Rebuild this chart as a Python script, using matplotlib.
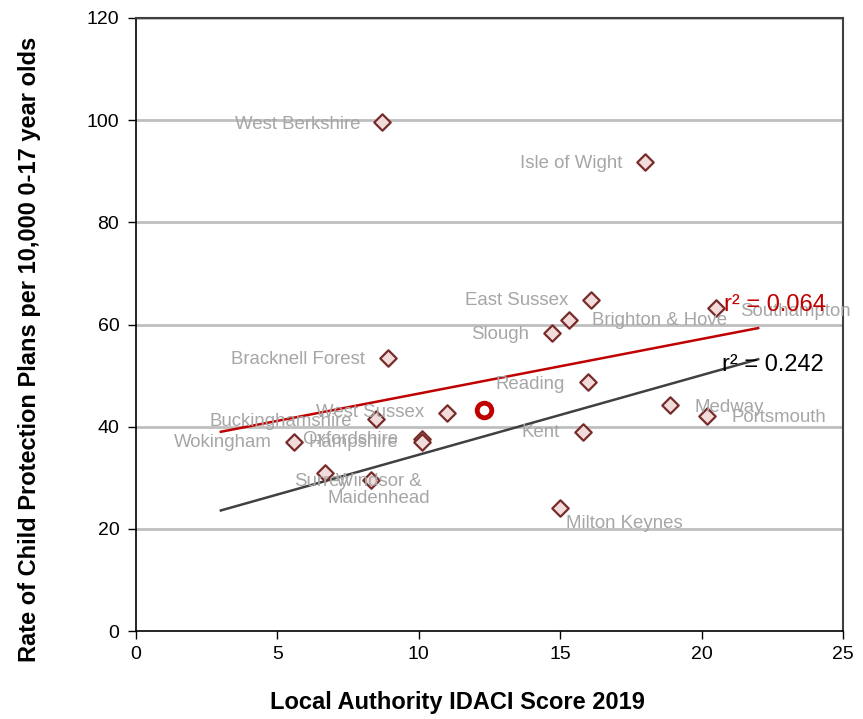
import matplotlib
matplotlib.use('Agg')
import matplotlib.pyplot as plt
import numpy as np

plt.rcParams['font.family'] = ['Liberation Sans', 'DejaVu Sans']

# local authority data (IDACI score 2019, CP plan rate per 10,000)
names = ['West Berkshire', 'Isle of Wight', 'East Sussex', 'Southampton',
         'Brighton & Hove', 'Slough', 'Bracknell Forest', 'Reading', 'Medway',
         'Portsmouth', 'West Sussex', 'Buckinghamshire', 'Wokingham',
         'Oxfordshire', 'Hampshire', 'Kent', 'Surrey', 'Windsor &\nMaidenhead',
         'Milton Keynes']
idaci = [8.7, 18.0, 16.1, 20.5, 15.3, 14.7, 8.9, 16.0, 18.9,
         20.2, 11.0, 8.5, 5.6, 10.1, 10.1, 15.8, 6.7, 8.3, 15.0]
cp_rate = [99.6, 91.8, 64.8, 63.2, 60.9, 58.3, 53.4, 48.7, 44.2,
           42.1, 42.7, 41.5, 37.0, 37.6, 37.0, 39.0, 30.9, 29.6, 24.1]

# highlighted (unlabelled) authority
hl_idaci = [12.3]
hl_rate = [43.3]

# trend lines: x range and fitted values at the ends
fit_x = [3.0, 22.0]
red_fit = [39.0, 59.3]
black_fit = [23.6, 53.2]
red_r2 = 'r² = 0.064'
black_r2 = 'r² = 0.242'

# label placement (pixel offsets, alignment)
lab_pos = {
    'West Berkshire': (-22, -2, 'right'),
    'Isle of Wight': (-23, -1, 'right'),
    'East Sussex': (-23, -1, 'right'),
    'Southampton': (24, -3, 'left'),
    'Brighton & Hove': (23, -1, 'left'),
    'Slough': (-23, -1, 'right'),
    'Bracknell Forest': (-23, -1, 'right'),
    'Reading': (-24, -2, 'right'),
    'Medway': (24, -2, 'left'),
    'Portsmouth': (24, -2, 'left'),
    'West Sussex': (-23, 0, 'right'),
    'Buckinghamshire': (-24, -2, 'right'),
    'Wokingham': (-23, -1, 'right'),
    'Oxfordshire': (-23, -1, 'right'),
    'Hampshire': (-23, -1, 'right'),
    'Kent': (-23, -1, 'right'),
    'Surrey': (-4, -8, 'center'),
    'Windsor &\nMaidenhead': (8, -10, 'center'),
    'Milton Keynes': (6, -16, 'left'),
}

fig = plt.figure(figsize=(8.63, 7.19), dpi=100)
ax = fig.add_axes([136/863, 1-631/719, (843-136)/863, (631-18)/719])

for y in range(20, 121, 20):
    ax.axhline(y, color='#bfbfbf', linewidth=2, zorder=0)

ax.plot(fit_x, red_fit, color='#c00000', linewidth=1.8, zorder=2)
ax.plot(fit_x, black_fit, color='#404040', linewidth=1.8, zorder=2)

ax.scatter(idaci, cp_rate, marker='D', s=70, facecolor='#f2dcdb',
           edgecolor='#772c2a', linewidth=1.6, zorder=3)
ax.scatter(hl_idaci, hl_rate, marker='o', s=110, facecolor='white',
           edgecolor='#c00000', linewidth=3.5, zorder=4)

for n, xv, yv in zip(names, idaci, cp_rate):
    dx, dy, ha = lab_pos[n]
    ax.annotate(n, (xv, yv), xytext=(dx, dy), textcoords='offset pixels',
                ha=ha, va='center', fontsize=13.4, color='#a6a6a6', zorder=5,
                linespacing=1.0, multialignment='center')

ax.annotate(red_r2, (fit_x[1], red_fit[1]), xytext=(-34, 23),
            textcoords='offset pixels', fontsize=17, color='#c00000',
            ha='left', va='center', zorder=6)
ax.annotate(black_r2, (fit_x[1], black_fit[1]), xytext=(-36, -6),
            textcoords='offset pixels', fontsize=17, color='black',
            ha='left', va='center', zorder=6)

ax.set_xlim(0, 25)
ax.set_ylim(0, 120)
ax.set_xticks(range(0, 26, 5))
ax.set_yticks(range(0, 121, 20))
ax.tick_params(axis='both', labelsize=14, length=6, width=1, direction='out', pad=6)
ax.tick_params(axis='x', pad=5)
for s in ['left', 'bottom']:
    ax.spines[s].set_color('black')
    ax.spines[s].set_linewidth(1.2)
for s in ['top', 'right']:
    ax.spines[s].set_color('#404040')
    ax.spines[s].set_linewidth(1.5)

fig.text(457/863, 1-703/719, 'Local Authority IDACI Score 2019', ha='center',
         va='center', fontsize=17, fontweight='bold')
fig.text(30/863, 1-349/719, 'Rate of Child Protection Plans per 10,000 0-17 year olds',
         ha='center', va='center', rotation=90, fontsize=17, fontweight='bold')

fig.savefig('out.png', dpi=100)
